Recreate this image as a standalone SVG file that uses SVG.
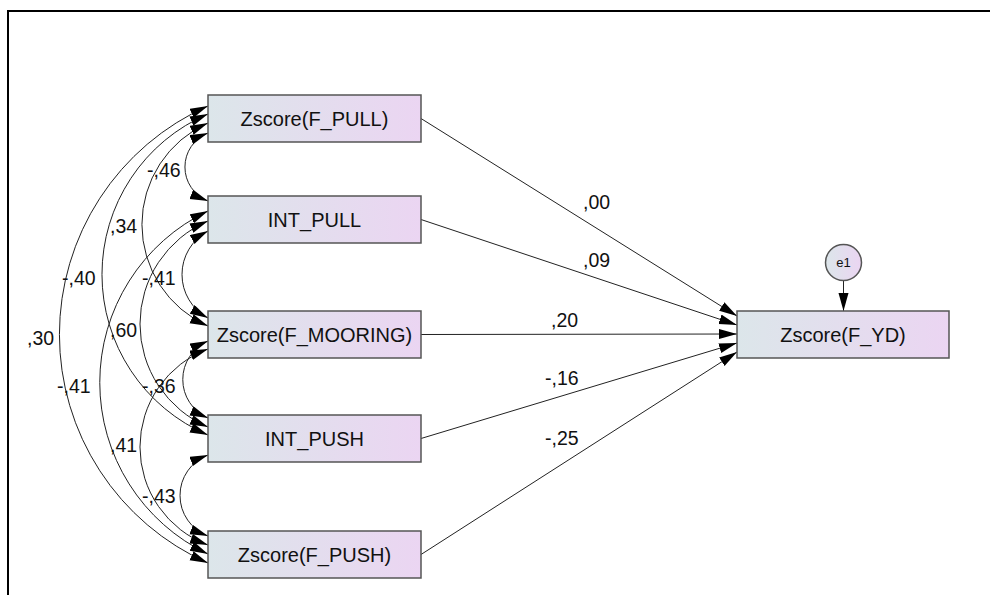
<svg xmlns="http://www.w3.org/2000/svg" width="990" height="595" viewBox="0 0 990 595">
<defs>
<linearGradient id="boxg" x1="0" y1="0" x2="1" y2="0">
<stop offset="0" stop-color="#dce6ea"/>
<stop offset="1" stop-color="#ebd5f2"/>
</linearGradient>
<marker id="ah" markerUnits="userSpaceOnUse" markerWidth="19" markerHeight="11" refX="18" refY="5" orient="auto-start-reverse" viewBox="0 0 19 11">
<path d="M0,0 L18,5 L0,10 z" fill="#000"/>
</marker>
<style>
.box{fill:url(#boxg);stroke:#555;stroke-width:1.5}
.lbl{font-family:"Liberation Sans",Arial,sans-serif;font-size:20px;fill:#111;text-anchor:middle}
.num{font-family:"Liberation Sans",Arial,sans-serif;font-size:19.5px;fill:#111}
.cov{fill:none;stroke:#222;stroke-width:1;marker-start:url(#ah);marker-end:url(#ah)}
.reg{fill:none;stroke:#222;stroke-width:1;marker-end:url(#ah)}
</style>
</defs>
<rect x="0" y="0" width="990" height="595" fill="#fff"/>
<rect x="8" y="11" width="1000" height="600" fill="none" stroke="#000" stroke-width="2"/>
<g id="connectors">
<path class="cov" d="M208,133 A36.6,36.6 0 0 0 208,201"/>
<path class="cov" d="M208,231 A49.4,49.4 0 0 0 208,318"/>
<path class="cov" d="M208,341 A42,42 0 0 0 208,418"/>
<path class="cov" d="M208,455 A43.3,43.3 0 0 0 208,536"/>
<path class="cov" d="M208,123 A111,111 0 0 0 208,326"/>
<path class="cov" d="M208,221 A112,112 0 0 0 208,427"/>
<path class="cov" d="M208,349 A104.6,104.6 0 0 0 208,545"/>
<path class="cov" d="M208,114 A174.5,174.5 0 0 0 208,435"/>
<path class="cov" d="M208,211 A190,190 0 0 0 208,554"/>
<path class="cov" d="M208,106 A250,250 0 0 0 208,563"/>
<path class="reg" d="M421,118.5 L737,316"/>
<path class="reg" d="M421,219.5 L737,325"/>
<path class="reg" d="M421,334.5 L737,334"/>
<path class="reg" d="M421,438.5 L737,343"/>
<path class="reg" d="M421,554.5 L737,352"/>
<path class="reg" d="M843.5,280.5 L843.5,311"/>
<text class="num" x="147" y="177">-,46</text>
<text class="num" x="142" y="285">-,41</text>
<text class="num" x="142" y="393">-,36</text>
<text class="num" x="142" y="503">-,43</text>
<text class="num" x="110" y="233">,34</text>
<text class="num" x="110" y="337">,60</text>
<text class="num" x="110" y="452">,41</text>
<text class="num" x="62" y="285">-,40</text>
<text class="num" x="57" y="393">-,41</text>
<text class="num" x="27" y="345">,30</text>
<text class="num" x="583" y="209">,00</text>
<text class="num" x="583" y="267">,09</text>
<text class="num" x="551" y="327">,20</text>
<text class="num" x="545" y="385">-,16</text>
<text class="num" x="545" y="445">-,25</text>
</g>
<g id="n_fpull"><rect class="box" x="208" y="95" width="213" height="47"/><text class="lbl" x="314.5" y="125.5">Zscore(F_PULL)</text></g>
<g id="n_intpull"><rect class="box" x="208" y="196" width="213" height="47"/><text class="lbl" x="314.5" y="226.5">INT_PULL</text></g>
<g id="n_fmooring"><rect class="box" x="208" y="311" width="213" height="47"/><text class="lbl" x="314.5" y="341.5">Zscore(F_MOORING)</text></g>
<g id="n_intpush"><rect class="box" x="208" y="415" width="213" height="47"/><text class="lbl" x="314.5" y="445.5">INT_PUSH</text></g>
<g id="n_fpush"><rect class="box" x="208" y="531" width="213" height="47"/><text class="lbl" x="314.5" y="561.5">Zscore(F_PUSH)</text></g>
<g id="n_fyd"><rect class="box" x="737" y="311" width="212" height="47"/><text class="lbl" x="843" y="341.5">Zscore(F_YD)</text></g>
<g id="n_e1"><circle cx="843.5" cy="262.5" r="18" fill="url(#boxg)" stroke="#555" stroke-width="1.5"/><text class="lbl" x="843.5" y="267" style="font-size:13px">e1</text></g>
</svg>
